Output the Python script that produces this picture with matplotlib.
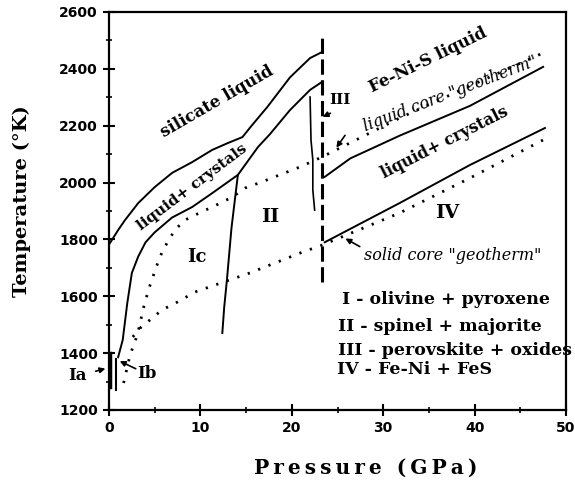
import numpy as np
import matplotlib.pyplot as plt
from matplotlib.ticker import MultipleLocator

# silicate liquidus
liq_p = [0.1, 1.0, 1.75, 3.2, 5.0, 6.9, 9.1, 11.3, 13.0, 14.6, 15.6, 17.3, 19.8, 22.0, 23.3]
liq_t = [1787, 1833, 1868, 1928, 1984, 2034, 2072, 2115, 2139, 2160, 2200, 2265, 2370, 2438, 2459]

# silicate solidus
sol_p = [1.0, 1.5, 2.0, 2.5, 3.2, 4.0, 5.0, 6.9, 9.1, 11.3, 14.1, 16.3, 17.6, 19.8, 22.0, 23.3]
sol_t = [1386, 1446, 1576, 1682, 1740, 1790, 1825, 1877, 1914, 1963, 2027, 2125, 2170, 2255, 2326, 2354]

# phase boundaries Ic/II and II/III
b1_p = [12.4, 12.6, 12.9, 13.4, 14.1]
b1_t = [1471, 1560, 1657, 1840, 2027]
b2_p = [22.0, 22.1, 22.3, 22.3, 22.5]
b2_t = [2301, 2150, 2080, 1974, 1903]

# core-mantle boundary (dashed)
cmb_p = [23.3, 23.3]
cmb_t = [1650, 2510]

# liquid core geotherm
lg_p = [1.6, 2.3, 3.1, 3.9, 4.5, 5.25, 5.9, 7.2, 8.3, 10.0, 11.3, 13.5, 14.9, 16.7, 20.9, 23.3, 31.8, 39.5, 47.5]
lg_t = [1295, 1393, 1464, 1576, 1640, 1710, 1763, 1833, 1868, 1895, 1914, 1949, 1981, 2002, 2055, 2090, 2227, 2340, 2456]

# solid core geotherm
sg_p = [2.6, 3.4, 5.8, 7.5, 9.4, 15.4, 20.9, 23.3, 31.8, 39.5, 47.5]
sg_t = [1457, 1488, 1552, 1580, 1615, 1682, 1752, 1780, 1893, 2016, 2150]

# Fe-Ni-S liquidus / solidus
fl_p = [23.6, 26.4, 31.8, 39.5, 47.5]
fl_t = [2020, 2085, 2165, 2270, 2407]
fs_p = [23.6, 31.8, 39.5, 47.7]
fs_t = [1790, 1928, 2062, 2192]

# small Ia / Ib boundaries
ia_p = [0.15, 0.15]
ia_t = [1280, 1400]
ib_p = [0.8, 0.8]
ib_t = [1270, 1380]

legend_lines = ["I - olivine + pyroxene", "II - spinel + majorite",
                "III - perovskite + oxides", "IV - Fe-Ni + FeS"]

fig = plt.figure(figsize=(5.75, 4.82), dpi=100)
ax = fig.add_axes([109/575, 1-410/482, 457/575, 398/482])

k = 'black'
ax.plot(liq_p, liq_t, color=k, lw=1.4)
ax.plot(sol_p, sol_t, color=k, lw=1.4)
ax.plot(b1_p, b1_t, color=k, lw=1.4)
ax.plot(b2_p, b2_t, color=k, lw=1.2)
ax.plot(cmb_p, cmb_t, color=k, lw=2.2, linestyle=(0, (5, 1.8)))
ax.plot(lg_p, lg_t, color=k, lw=2, linestyle=(0, (0.8, 3.2)))
ax.plot(sg_p, sg_t, color=k, lw=2, linestyle=(0, (0.8, 3.2)))
ax.plot(fl_p, fl_t, color=k, lw=1.4)
ax.plot(fs_p, fs_t, color=k, lw=1.4)
ax.plot(ia_p, ia_t, color=k, lw=2.5)
ax.plot(ib_p, ib_t, color=k, lw=1.5)

ax.set_xlim(0, 50)
ax.set_ylim(1200, 2600)
ax.xaxis.set_major_locator(MultipleLocator(10))
ax.xaxis.set_minor_locator(MultipleLocator(5))
ax.yaxis.set_major_locator(MultipleLocator(200))
ax.yaxis.set_minor_locator(MultipleLocator(100))
ax.tick_params(which='major', direction='inout', length=8, width=1.5, labelsize=10, pad=4)
ax.tick_params(which='minor', direction='inout', length=4, width=1.2)
for lab in ax.get_xticklabels() + ax.get_yticklabels():
    lab.set_fontweight('bold')
for s in ax.spines.values():
    s.set_linewidth(1.6)

serif = 'DejaVu Serif'
ts = '\u2009'
fig.text(22/575, 1-201/482, 'Temperature (°K)', rotation=90, ha='center', va='center',
         family=serif, weight='bold', fontsize=14)
fig.text(366/575, 1-468/482, ts.join('Pressure (GPa)'), ha='center', va='center',
         family=serif, weight='bold', fontsize=14.5)

# region labels
ax.text(11.8, 2283, 'silicate liquid', rotation=30, ha='center', va='center',
        family=serif, weight='bold', fontsize=12)
ax.text(9.1, 1982, 'liquid+ crystals', rotation=37, ha='center', va='center',
        family=serif, weight='bold', fontsize=11)
ax.text(34.9, 2431, 'Fe-Ni-S liquid', rotation=26, ha='center', va='center',
        family=serif, weight='bold', fontsize=12)
ax.text(36.7, 2139, 'liquid+ crystals', rotation=27, ha='center', va='center',
        family=serif, weight='bold', fontsize=11.5)
ax.text(37.3, 2312, 'liquid core "geotherm"', rotation=21, ha='center', va='center',
        family=serif, style='italic', fontsize=11.5)
ax.text(37.6, 1745, 'solid core "geotherm"', ha='center', va='center',
        family=serif, style='italic', fontsize=11.5)

ax.text(37.0, 1893, 'IV', ha='center', va='center', family=serif, weight='bold', fontsize=14)
ax.text(17.6, 1879, 'II', ha='center', va='center', family=serif, weight='bold', fontsize=14)
ax.text(25.3, 2290, 'III', ha='center', va='center', family=serif, weight='bold', fontsize=11)
ax.text(9.6, 1738, 'Ic', ha='center', va='center', family=serif, weight='bold', fontsize=13)
ax.text(-3.5, 1323, 'Ia', ha='center', va='center', family=serif, weight='bold', fontsize=12,
        clip_on=False)
ax.text(4.2, 1330, 'Ib', ha='center', va='center', family=serif, weight='bold', fontsize=12)

arr = dict(arrowstyle='-|>', color=k, lw=1.2, mutation_scale=8)
ax.annotate('', xy=(25.6, 1808), xytext=(27.7, 1770), arrowprops=arr)
ax.annotate('', xy=(24.7, 2115), xytext=(26.0, 2174), arrowprops=arr)
ax.annotate('', xy=(23.1, 2227), xytext=(24.5, 2248), arrowprops=arr)
ax.annotate('', xy=(-0.1, 1348), xytext=(-1.75, 1334), arrowprops=arr, annotation_clip=False)
ax.annotate('', xy=(0.9, 1376), xytext=(3.2, 1341), arrowprops=arr)

leg_x = [25.5, 25.0, 25.0, 24.9]
leg_t = [1587, 1492, 1411, 1341]
for s, x, t in zip(legend_lines, leg_x, leg_t):
    ax.text(x, t, s, ha='left', va='center', family=serif, weight='bold', fontsize=12.5,
            clip_on=False)

fig.savefig('out.png', dpi=100)
